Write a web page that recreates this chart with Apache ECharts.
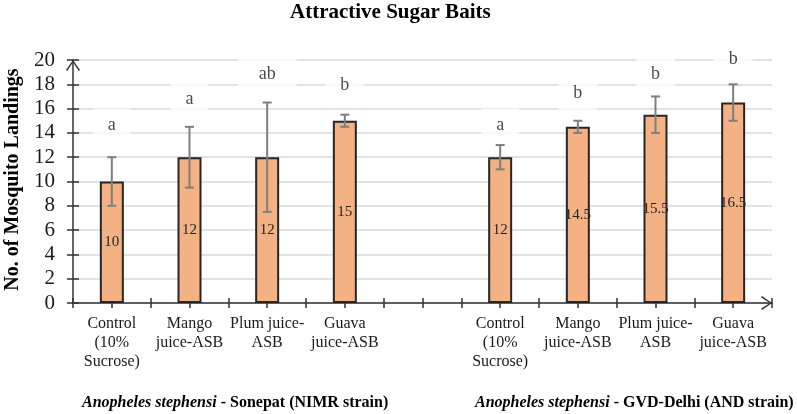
<!DOCTYPE html>
<html>
<head>
<meta charset="utf-8">
<script src="https://cdn.jsdelivr.net/npm/echarts/dist/echarts.min.js"></script>
<style>
  html, body { margin: 0; padding: 0; background: #fff; }
  #chart { width: 797px; height: 414px; }
</style>
</head>
<body>
<div id="chart"></div>
<script>
// ---- data ----
const categories = [
  'Control\n(10%\nSucrose)', 'Mango\njuice-ASB', 'Plum juice-\nASB', 'Guava\njuice-ASB',
  '',
  'Control\n(10%\nSucrose)', 'Mango\njuice-ASB', 'Plum juice-\nASB', 'Guava\njuice-ASB'
];
const means = [10, 12, 12, 15, null, 12, 14.5, 15.5, 16.5];
const errors = [2, 2.5, 4.5, 0.5, null, 1, 0.5, 1.5, 1.5];
const letters = ['a', 'a', 'ab', 'b', null, 'a', 'b', 'b', 'b'];
const letterLevels = [14.6, 16.8, 18.8, 17.9, null, 14.6, 17.3, 18.8, 20.1];
const yMin = 0, yMax = 20, yStep = 2;
const titleText = 'Attractive Sugar Baits';
const yName = 'No. of Mosquito Landings';
const groupSpecies = ['Anopheles stephensi', 'Anopheles stephensi'];
const groupStrains = [' - Sonepat (NIMR strain)', ' - GVD-Delhi (AND strain)'];

// ---- styling ----
const FONT = '"Liberation Serif", "Times New Roman", serif';
const AXIS = '#333333';
const chevron = 'path://M7,0 L14,10 L12.8,11 L7,2.2 L1.2,11 L0,10 Z';

const chart = echarts.init(document.getElementById('chart'), null, { renderer: 'canvas' });

const barData = means.map(v => v == null ? '-' : v);
const errData = [];
means.forEach((m, i) => { if (m != null) errData.push([i, m - errors[i], m + errors[i]]); });
const letterData = [];
letters.forEach((t, i) => {
  if (t != null) letterData.push({
    value: [i, letterLevels[i]],
    label: { padding: [10, t.length > 1 ? 21 : 15, 6, t.length > 1 ? 21 : 15] }
  });
});

function catAxis(extra) {
  return Object.assign({
    type: 'category', data: categories, gridIndex: 0, position: 'bottom',
    axisLine: { show: false }, axisLabel: { show: false },
    axisTick: { show: true, length: 5, lineStyle: { color: AXIS, width: 1.5 } },
    splitLine: { show: false }
  }, extra);
}

const groupRich = {
  i: { fontFamily: FONT, fontSize: 16, fontWeight: 'bold', fontStyle: 'italic', fill: '#000' },
  b: { fontFamily: FONT, fontSize: 16, fontWeight: 'bold', fill: '#000' }
};

const option = {
  backgroundColor: '#fff',
  animation: false,
  title: {
    text: titleText, left: 290, top: 2, padding: 0,
    textStyle: { fontFamily: FONT, fontSize: 21, fontWeight: 'bold', color: '#000' }
  },
  grid: { left: 73, right: 25, top: 60, bottom: 111, containLabel: false, outerBoundsMode: 'none' },
  xAxis: [
    catAxis({
      axisLine: {
        show: true, lineStyle: { color: AXIS, width: 1.5 },
        symbol: ['none', chevron], symbolSize: [14, 11], symbolOffset: [0, -5.5]
      },
      axisTick: { show: true, length: 5, inside: false, lineStyle: { color: AXIS, width: 1.5 } },
      axisLabel: {
        show: true, interval: 0, margin: 11, fontFamily: FONT, fontSize: 16,
        lineHeight: 19, color: '#1a1a1a', align: 'center'
      }
    }),
    catAxis({ axisTick: { show: true, length: 5, inside: true, lineStyle: { color: AXIS, width: 1.5 } } }),
    catAxis({ axisTick: { show: true, alignWithLabel: true, length: 5, inside: false, lineStyle: { color: AXIS, width: 1.5 } } }),
    catAxis({ axisTick: { show: true, alignWithLabel: true, length: 5, inside: true, lineStyle: { color: AXIS, width: 1.5 } } })
  ],
  yAxis: [
    {
      type: 'value', min: yMin, max: yMax, interval: yStep,
      name: yName, nameLocation: 'middle', nameGap: 49, nameRotate: 90,
      nameTextStyle: { fontFamily: FONT, fontSize: 20, fontWeight: 'bold', color: '#000', padding: [0, 0, 0, 4] },
      axisLine: {
        show: true, lineStyle: { color: AXIS, width: 1.5 },
        symbol: ['none', chevron], symbolSize: [14, 11], symbolOffset: [0, -5.5]
      },
      axisTick: { show: true, length: 6, inside: false, lineStyle: { color: AXIS, width: 1.5 } },
      axisLabel: { margin: 18, fontFamily: FONT, fontSize: 21, color: '#1a1a1a' },
      splitLine: { show: true, lineStyle: { color: '#d9d9d9', width: 1.5 } }
    },
    {
      type: 'value', min: yMin, max: yMax, interval: yStep, position: 'left',
      axisLine: { show: false }, axisLabel: { show: false }, splitLine: { show: false },
      axisTick: { show: true, length: 6, inside: true, lineStyle: { color: AXIS, width: 1.5 } }
    }
  ],
  graphic: [
    {
      type: 'text', left: 82, top: 395,
      style: { text: '{i|' + groupSpecies[0] + '}{b|' + groupStrains[0] + '}', rich: groupRich }
    },
    {
      type: 'text', left: 475, top: 395,
      style: { text: '{i|' + groupSpecies[1] + '}{b|' + groupStrains[1] + '}', rich: groupRich }
    }
  ],
  series: [
    {
      type: 'bar', xAxisIndex: 0, yAxisIndex: 0, data: barData, barWidth: 24, z: 2,
      itemStyle: { color: '#f4b183', borderColor: '#262626', borderWidth: 2 },
      label: {
        show: true, position: 'inside', fontFamily: FONT, fontSize: 15, color: '#262626',
        formatter: p => String(p.value)
      }
    },
    {
      type: 'scatter', xAxisIndex: 0, yAxisIndex: 0, data: letterData, z: 2, clip: false,
      symbolSize: 1, itemStyle: { color: 'rgba(0,0,0,0)' },
      label: {
        show: true, position: 'inside', backgroundColor: '#fff',
        fontFamily: FONT, fontSize: 18, color: '#1a1a1a',
        formatter: p => letters[p.value[0]]
      }
    },
    {
      type: 'custom', xAxisIndex: 0, yAxisIndex: 0, data: errData, z: 4,
      renderItem: function (params, api) {
        const x = api.value(0);
        const lo = api.coord([x, api.value(1)]);
        const hi = api.coord([x, api.value(2)]);
        const cap = 4.5;
        const st = { stroke: '#7f7f7f', lineWidth: 2 };
        return {
          type: 'group',
          children: [
            { type: 'line', shape: { x1: lo[0], y1: lo[1], x2: hi[0], y2: hi[1] }, style: st },
            { type: 'line', shape: { x1: lo[0] - cap, y1: lo[1], x2: lo[0] + cap, y2: lo[1] }, style: st },
            { type: 'line', shape: { x1: hi[0] - cap, y1: hi[1], x2: hi[0] + cap, y2: hi[1] }, style: st }
          ]
        };
      }
    }
  ]
};
chart.setOption(option);
</script>
</body>
</html>
